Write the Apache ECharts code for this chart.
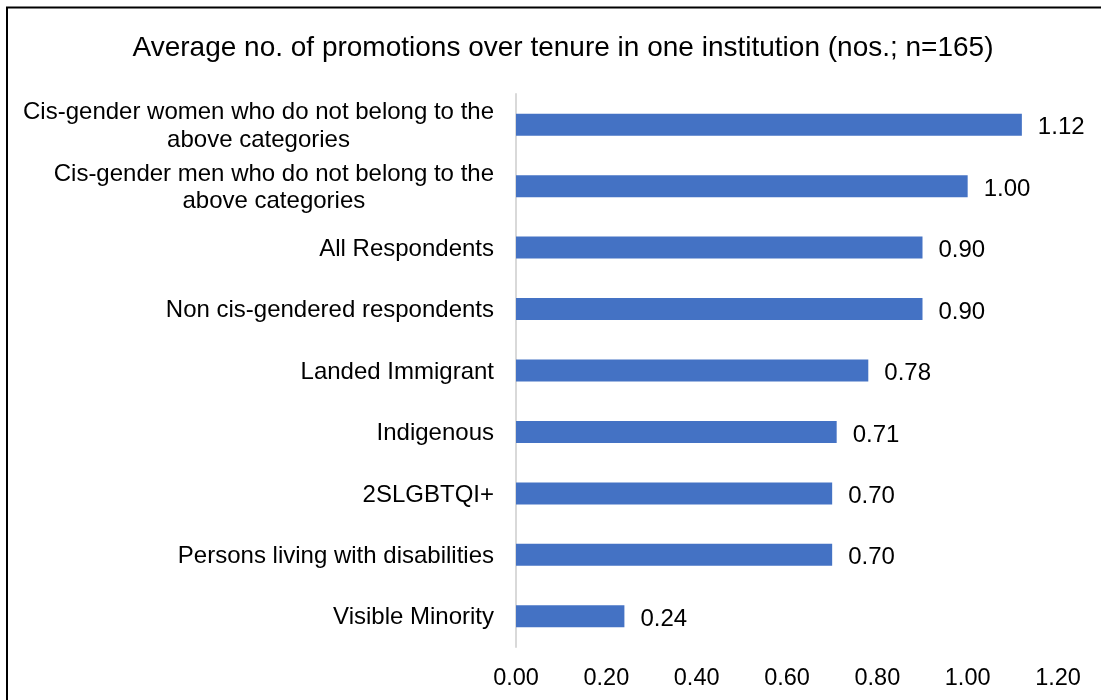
<!DOCTYPE html>
<html>
<head>
<meta charset="utf-8">
<style>
  html, body { margin: 0; padding: 0; background: #fff; }
  #chart { width: 1101px; height: 700px; }
</style>
<script src="https://cdn.jsdelivr.net/npm/echarts@6/dist/echarts.min.js"></script>
</head>
<body>
<div id="chart"></div>
<script>
// Groups, listed top to bottom
const categories = [
  'Cis-gender women who do not belong to the\nabove categories',
  'Cis-gender men who do not belong to the\nabove categories',
  'All Respondents',
  'Non cis-gendered respondents',
  'Landed Immigrant',
  'Indigenous',
  '2SLGBTQI+',
  'Persons living with disabilities',
  'Visible Minority'
];
// Average number of promotions per group
const promotions = [1.12, 1.00, 0.90, 0.90, 0.78, 0.71, 0.70, 0.70, 0.24];
// Value axis tick labels
const tickValues = ['0.00', '0.20', '0.40', '0.60', '0.80', '1.00', '1.20'];

const FONT = '"Liberation Sans", Arial, sans-serif';
const chart = echarts.init(document.getElementById('chart'));

chart.setOption({
  animation: false,
  backgroundColor: '#ffffff',
  title: {
    text: 'Average no. of promotions over tenure in one institution (nos.; n=165)',
    left: 558,
    top: 29,
    textAlign: 'center',
    textStyle: { fontFamily: FONT, fontSize: 28, fontWeight: 'normal', color: '#000' }
  },
  graphic: [{
    type: 'rect',
    silent: true,
    shape: { x: 7, y: 7.5, width: 1300, height: 900 },
    style: { fill: 'none', stroke: '#000', lineWidth: 2 }
  }],
  grid: { left: 516, right: 43, top: 94, bottom: 53, containLabel: false },
  xAxis: {
    type: 'value',
    min: 0,
    max: 1.2,
    interval: 0.2,
    axisLine: { show: false },
    axisTick: { show: false },
    splitLine: { show: false },
    axisLabel: {
      margin: 20,
      fontFamily: FONT,
      fontSize: 23.5,
      color: '#000',
      formatter: (v) => tickValues[Math.round(v / 0.2)]
    }
  },
  yAxis: {
    type: 'category',
    data: categories,
    inverse: true,
    axisLine: { show: true, lineStyle: { color: '#d9d9d9', width: 2 } },
    axisTick: { show: false },
    axisLabel: {
      margin: 22,
      align: 'right',
      fontFamily: FONT,
      fontSize: 24,
      color: '#000',
      formatter: (v) => v.split('\n').map(l => '{c|' + l + '}').join('\n'),
      rich: {
        c: { align: 'center', fontFamily: FONT, fontSize: 24, lineHeight: 27.5, color: '#000', padding: [3, 0, 0, 0] }
      }
    }
  },
  series: [{
    type: 'bar',
    data: promotions,
    barWidth: 22,
    itemStyle: { color: '#4472c4' },
    label: {
      show: true,
      position: 'right',
      distance: 16,
      offset: [0, 3],
      fontFamily: FONT,
      fontSize: 24,
      color: '#000',
      formatter: (p) => p.value.toFixed(2)
    }
  }]
});
</script>
</body>
</html>
